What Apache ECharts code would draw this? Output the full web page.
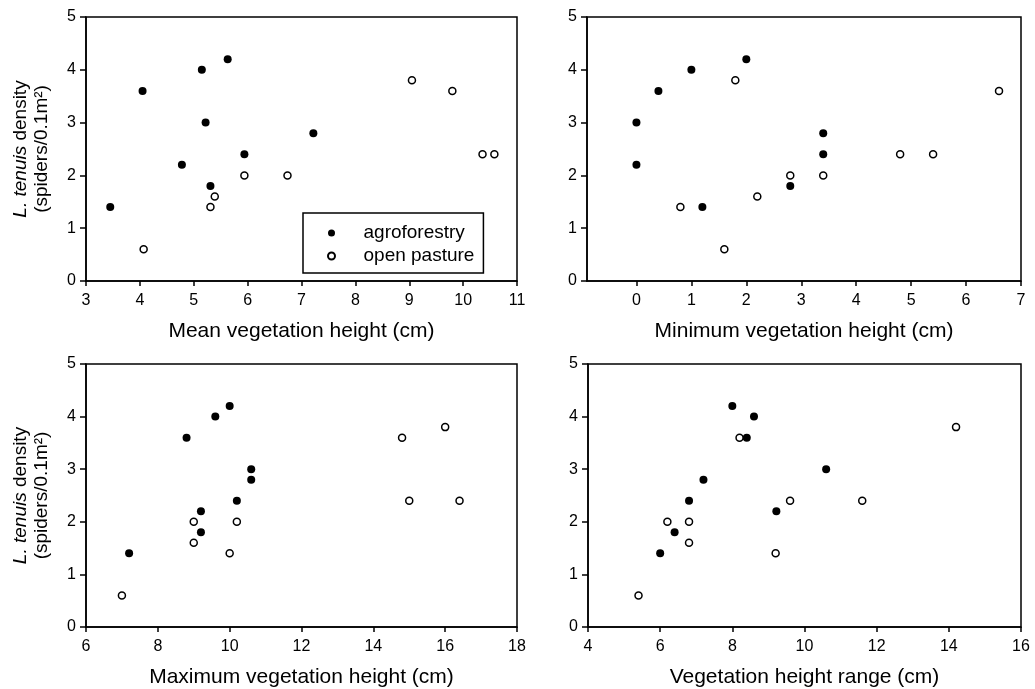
<!DOCTYPE html>
<html>
<head>
<meta charset="utf-8">
<script src="https://cdn.jsdelivr.net/npm/echarts@6/dist/echarts.min.js"></script>
<style>
  html, body { margin: 0; padding: 0; background: #fff; }
  #chart { width: 1035px; height: 689px; }
</style>
</head>
<body>
<div id="chart"></div>
<script>
// density (spiders / 0.1 m2) per site, same order in every panel
const agroDensity = [1.4, 3.6, 2.2, 4.0, 3.0, 1.8, 4.2, 2.4, 2.8];
const pastureDensity = [0.6, 1.4, 1.6, 2.0, 2.0, 3.8, 3.6, 2.4, 2.4];

// mean vegetation height (cm)
const agroMean = [3.45, 4.05, 4.78, 5.15, 5.22, 5.31, 5.63, 5.94, 7.22];
const pastureMean = [4.07, 5.31, 5.39, 5.94, 6.74, 9.05, 9.80, 10.36, 10.58];

// minimum vegetation height (cm)
const agroMinX = [0, 0, 0.4, 1.0, 1.2, 2.0, 2.8, 3.4, 3.4];
const agroMinY = [3.0, 2.2, 3.6, 4.0, 1.4, 4.2, 1.8, 2.8, 2.4];
const pastureMinX = [0.8, 1.6, 1.8, 2.2, 2.8, 3.4, 4.8, 5.4, 6.6];
const pastureMinY = [1.4, 0.6, 3.8, 1.6, 2.0, 2.0, 2.4, 2.4, 3.6];

// maximum vegetation height (cm)
const agroMaxX = [7.2, 8.8, 9.2, 9.2, 9.6, 10.0, 10.2, 10.6, 10.6];
const agroMaxY = [1.4, 3.6, 2.2, 1.8, 4.0, 4.2, 2.4, 3.0, 2.8];
const pastureMaxX = [7.0, 9.0, 9.0, 10.0, 10.2, 14.8, 15.0, 16.0, 16.4];
const pastureMaxY = [0.6, 2.0, 1.6, 1.4, 2.0, 3.6, 2.4, 3.8, 2.4];

// vegetation height range (cm)
const agroRangeX = [6.0, 6.4, 6.8, 7.2, 8.0, 8.4, 8.6, 9.22, 10.6];
const agroRangeY = [1.4, 1.8, 2.4, 2.8, 4.2, 3.6, 4.0, 2.2, 3.0];
const pastureRangeX = [5.4, 6.2, 6.8, 6.8, 8.2, 9.2, 9.6, 11.6, 14.2];
const pastureRangeY = [0.6, 2.0, 2.0, 1.6, 3.6, 1.4, 2.4, 2.4, 3.8];

const xTitles = [
  'Mean vegetation height (cm)',
  'Minimum vegetation height (cm)',
  'Maximum vegetation height (cm)',
  'Vegetation height range (cm)'
];
const minTicks = [0, 1, 2, 3, 4, 5, 6, 7];

const FONT = '"Liberation Sans", Arial, sans-serif';

function pairs(xs, ys) {
  return xs.map((x, i) => [x, ys[i]]);
}

const grids = [
  { left: 86, top: 17, width: 431, height: 264 },
  { left: 587, top: 17, width: 434, height: 264 },
  { left: 86, top: 364, width: 431, height: 263 },
  { left: 588, top: 364, width: 433, height: 263 }
].map(g => Object.assign(g, { show: true, borderColor: '#000', borderWidth: 1.5, backgroundColor: 'transparent' }));

const xRanges = [
  { min: 3, max: 11, interval: 1 },
  { min: -0.9, max: 7 },
  { min: 6, max: 18, interval: 2 },
  { min: 4, max: 16, interval: 2 }
];

const xAxes = xRanges.map((r, i) => {
  const ax = {
    type: 'value',
    gridIndex: i,
    min: r.min,
    max: r.max,
    name: xTitles[i],
    nameLocation: 'middle',
    nameGap: 40,
    nameTextStyle: { fontFamily: FONT, fontSize: 21, color: '#000' },
    axisLine: { onZero: false, lineStyle: { color: '#000', width: 1.5 } },
    axisTick: { length: 5, lineStyle: { color: '#000', width: 1.5 } },
    axisLabel: { margin: 12, fontFamily: FONT, fontSize: 16, color: '#000' },
    splitLine: { show: false }
  };
  if (r.interval) {
    ax.interval = r.interval;
  } else {
    ax.axisTick.customValues = minTicks;
    ax.axisLabel.customValues = minTicks;
  }
  return ax;
});

const yAxes = [0, 1, 2, 3].map(i => {
  const ax = {
    type: 'value',
    gridIndex: i,
    min: 0,
    max: 5,
    interval: 1,
    axisLine: { onZero: false, lineStyle: { color: '#000', width: 1.5 } },
    axisTick: { length: 6, lineStyle: { color: '#000', width: 1.5 } },
    axisLabel: { margin: 10, fontFamily: FONT, fontSize: 16, color: '#000' },
    splitLine: { show: false }
  };
  if (i % 2 === 0) {
    ax.name = '{i|L. tenuis} density\n(spiders/0.1m²)';
    ax.nameLocation = 'middle';
    ax.nameGap = 34;
    ax.nameTextStyle = {
      fontFamily: FONT, fontSize: 19, color: '#000', lineHeight: 21, align: 'center',
      rich: { i: { fontFamily: FONT, fontSize: 19, fontStyle: 'italic', color: '#000' } }
    };
  }
  return ax;
});

const panelData = [
  [pairs(agroMean, agroDensity), pairs(pastureMean, pastureDensity)],
  [pairs(agroMinX, agroMinY), pairs(pastureMinX, pastureMinY)],
  [pairs(agroMaxX, agroMaxY), pairs(pastureMaxX, pastureMaxY)],
  [pairs(agroRangeX, agroRangeY), pairs(pastureRangeX, pastureRangeY)]
];

const series = [];
panelData.forEach((d, i) => {
  series.push({
    name: 'agroforestry',
    type: 'scatter',
    xAxisIndex: i,
    yAxisIndex: i,
    symbol: 'circle',
    symbolSize: 8,
    itemStyle: { color: '#000', opacity: 1 },
    data: d[0]
  });
  series.push({
    name: 'open pasture',
    type: 'scatter',
    xAxisIndex: i,
    yAxisIndex: i,
    symbol: 'circle',
    symbolSize: 7,
    itemStyle: { color: '#fff', borderColor: '#000', borderWidth: 1.5, opacity: 1 },
    data: d[1]
  });
});

const chart = echarts.init(document.getElementById('chart'));
chart.setOption({
  animation: false,
  backgroundColor: '#fff',
  grid: grids,
  xAxis: xAxes,
  yAxis: yAxes,
  legend: {
    data: ['agroforestry', 'open pasture'],
    orient: 'vertical',
    left: 303,
    top: 213,
    padding: [10, 9, 7, 24],
    itemWidth: 54,
    itemHeight: 7,
    itemGap: 3,
    borderColor: '#000',
    borderWidth: 1.5,
    backgroundColor: '#fff',
    selectedMode: false,
    textStyle: { fontFamily: FONT, fontSize: 19, lineHeight: 20, color: '#000' }
  },
  series: series
});
window.addEventListener('resize', () => chart.resize());
</script>
</body>
</html>
